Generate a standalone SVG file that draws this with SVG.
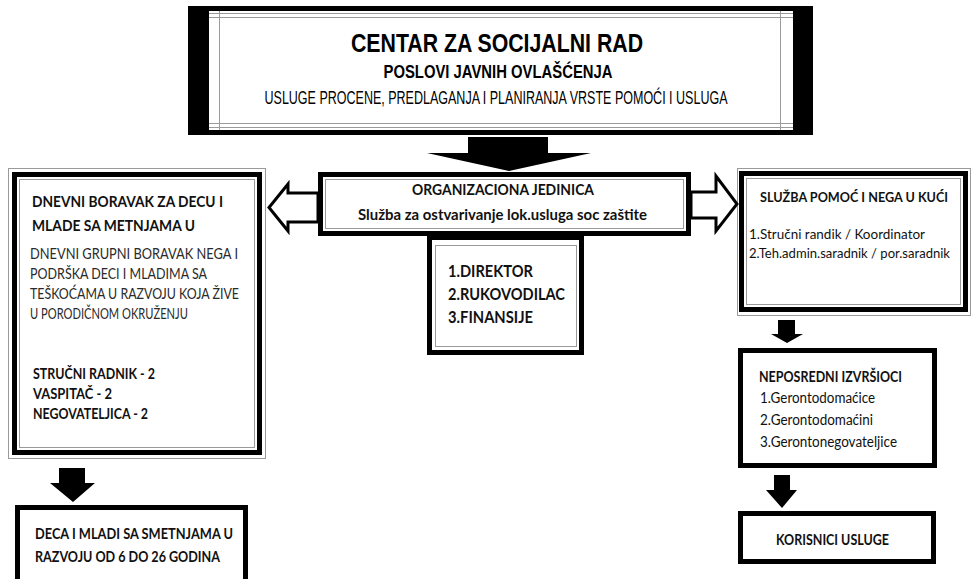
<svg xmlns="http://www.w3.org/2000/svg" width="972" height="579" viewBox="0 0 972 579">
<style>
.t{font-family:Lato,"Open Sans","DejaVu Sans",sans-serif;fill:#111}
.b{font-weight:bold}
.r{fill:#2a2a2a}
.h{font-family:"Liberation Sans",Arial,sans-serif;fill:#000}
.blk{fill:none;stroke:#000;stroke-width:5}
.gr{fill:none;stroke:#9a9a9a;stroke-width:1}
.ha{fill:#fff;stroke:#000;stroke-width:3;stroke-linejoin:miter}
.fa{fill:#000}
</style>
<rect width="972" height="579" fill="#fff"/>

<g id="center">
  <rect x="188" y="6" width="625" height="129" fill="#000"/>
  <rect x="209" y="11" width="584" height="119" fill="#fff"/>
  <g class="gr">
    <line x1="209" y1="13.5" x2="793" y2="13.5"/>
    <line x1="209" y1="17.5" x2="793" y2="17.5"/>
    <line x1="209" y1="123.5" x2="793" y2="123.5"/>
    <line x1="209" y1="127.5" x2="793" y2="127.5"/>
    <line x1="219.5" y1="11" x2="219.5" y2="130"/>
    <line x1="780.5" y1="11" x2="780.5" y2="130"/>
  </g>
  <text class="h b" x="497" y="52" font-size="25" text-anchor="middle" textLength="292" lengthAdjust="spacingAndGlyphs">CENTAR ZA SOCIJALNI RAD</text>
  <text class="h b" x="498" y="78" font-size="17.5" text-anchor="middle" textLength="229" lengthAdjust="spacingAndGlyphs">POSLOVI JAVNIH OVLAŠĆENJA</text>
  <text class="h" x="496" y="104" font-size="17.5" text-anchor="middle" textLength="463" lengthAdjust="spacingAndGlyphs">USLUGE PROCENE, PREDLAGANJA I PLANIRANJA VRSTE POMOĆI I USLUGA</text>
</g>

<g id="org">
  <rect class="blk" x="320.5" y="174.5" width="368" height="59"/>
  <rect class="gr" x="325.5" y="179.5" width="358" height="49"/>
  <text class="t b" x="412" y="195" font-size="16" textLength="182" lengthAdjust="spacingAndGlyphs">ORGANIZACIONA JEDINICA</text>
  <text class="t b" x="358" y="220" font-size="16" textLength="289" lengthAdjust="spacingAndGlyphs">Služba za ostvarivanje lok.usluga soc zaštite</text>
</g>

<g id="direktor">
  <rect class="blk" x="429.5" y="237.5" width="152" height="115"/>
  <rect class="gr" x="435.5" y="245.5" width="141" height="101"/>
  <text class="t b" x="448" y="277" font-size="17" textLength="85" lengthAdjust="spacingAndGlyphs">1.DIREKTOR</text>
  <text class="t b" x="448" y="300" font-size="17" textLength="117" lengthAdjust="spacingAndGlyphs">2.RUKOVODILAC</text>
  <text class="t b" x="448" y="323" font-size="17" textLength="85" lengthAdjust="spacingAndGlyphs">3.FINANSIJE</text>
</g>

<g id="dnevni">
  <rect class="gr" x="8.5" y="168.5" width="257" height="290"/>
  <rect class="blk" x="14.5" y="174.5" width="245" height="278"/>
  <rect class="gr" x="19.5" y="179.5" width="235" height="268"/>
  <text class="t b" x="32" y="207" font-size="16" textLength="191" lengthAdjust="spacingAndGlyphs">DNEVNI BORAVAK ZA DECU I</text>
  <text class="t b" x="32" y="231" font-size="16" textLength="163" lengthAdjust="spacingAndGlyphs">MLADE SA METNJAMA U</text>
  <text class="t r" x="30" y="259" font-size="15.5" textLength="208" lengthAdjust="spacingAndGlyphs">DNEVNI GRUPNI BORAVAK NEGA I</text>
  <text class="t r" x="30" y="279" font-size="15.5" textLength="177" lengthAdjust="spacingAndGlyphs">PODRŠKA DECI I MLADIMA SA</text>
  <text class="t r" x="30" y="299" font-size="15.5" textLength="209" lengthAdjust="spacingAndGlyphs">TEŠKOĆAMA U RAZVOJU KOJA ŽIVE</text>
  <text class="t r" x="30" y="319" font-size="15.5" textLength="158" lengthAdjust="spacingAndGlyphs">U PORODIČNOM OKRUŽENJU</text>
  <text class="t b" x="33" y="379" font-size="15.5" textLength="122" lengthAdjust="spacingAndGlyphs">STRUČNI RADNIK - 2</text>
  <text class="t b" x="33" y="399" font-size="15.5" textLength="79" lengthAdjust="spacingAndGlyphs">VASPITAČ - 2</text>
  <text class="t b" x="33" y="419" font-size="15.5" textLength="115" lengthAdjust="spacingAndGlyphs">NEGOVATELJICA - 2</text>
</g>

<g id="deca">
  <rect class="blk" x="17.5" y="507.5" width="228" height="80"/>
  <text class="t b" x="35" y="539" font-size="16" textLength="198" lengthAdjust="spacingAndGlyphs">DECA I MLADI SA SMETNJAMA U</text>
  <text class="t b" x="35" y="562" font-size="16" textLength="185" lengthAdjust="spacingAndGlyphs">RAZVOJU OD 6 DO 26 GODINA</text>
</g>

<g id="pomoc">
  <rect class="gr" x="737.5" y="168.5" width="233" height="147"/>
  <rect class="blk" x="741.5" y="173.5" width="224" height="136"/>
  <rect class="gr" x="746.5" y="178.5" width="214" height="126"/>
  <text class="t b" x="760" y="202" font-size="14" textLength="188" lengthAdjust="spacingAndGlyphs">SLUŽBA POMOĆ I NEGA U KUĆI</text>
  <text class="t" x="749" y="239" font-size="14" textLength="176" lengthAdjust="spacingAndGlyphs">1.Stručni randik / Koordinator</text>
  <text class="t" x="749" y="258" font-size="13.5" textLength="201" lengthAdjust="spacingAndGlyphs">2.Teh.admin.saradnik / por.saradnik</text>
</g>

<g id="izvrsioci">
  <rect class="blk" x="740.5" y="350.5" width="194" height="115"/>
  <text class="t b" x="759" y="382" font-size="15.5" textLength="143" lengthAdjust="spacingAndGlyphs">NEPOSREDNI IZVRŠIOCI</text>
  <text class="t" x="760" y="403" font-size="15.5" textLength="115" lengthAdjust="spacingAndGlyphs">1.Gerontodomaćice</text>
  <text class="t" x="760" y="425" font-size="15.5" textLength="113" lengthAdjust="spacingAndGlyphs">2.Gerontodomaćini</text>
  <text class="t" x="760" y="447" font-size="15.5" textLength="137" lengthAdjust="spacingAndGlyphs">3.Gerontonegovateljice</text>
</g>

<g id="korisnici">
  <rect class="blk" x="740.5" y="513.5" width="193" height="48"/>
  <text class="t b" x="776" y="545" font-size="15.5" textLength="113" lengthAdjust="spacingAndGlyphs">KORISNICI USLUGE</text>
</g>

<g id="connectors">
  <polygon class="fa" points="468,137 548,137 548,153 591,153 509,171 427,153 468,153"/>
  <polygon class="ha" points="318,193 288,193 288,184 269,207.5 288,231 288,222 318,222"/>
  <polygon class="ha" points="691,192 716,192 716,176 737,204 716,231 716,218 691,218"/>
  <polygon class="fa" points="778,320 795,320 795,334 803,334 787,343 771,334 778,334"/>
  <polygon class="fa" points="774,475 790,475 790,490 797,490 782,508 766,490 774,490"/>
  <polygon class="fa" points="59,468 85,468 85,483 95,483 73,502 50,483 59,483"/>
</g>
</svg>
